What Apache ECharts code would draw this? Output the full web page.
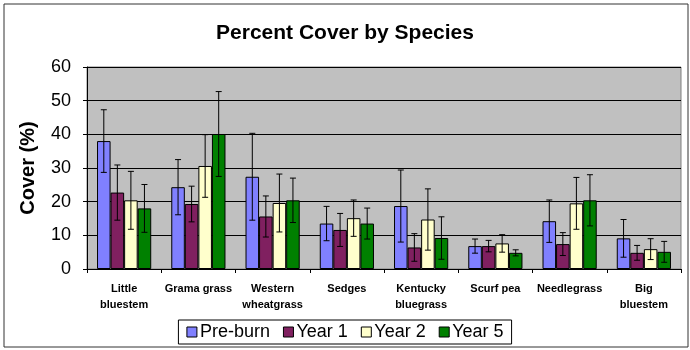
<!DOCTYPE html>
<html><head><meta charset="utf-8">
<script src="https://cdn.jsdelivr.net/npm/echarts@6/dist/echarts.min.js"></script>
<style>html,body{margin:0;padding:0;background:#fff}#c{width:690px;height:350px}</style>
</head><body><div id="c"></div>
<script>
const categories = ['Little\nbluestem','Grama grass','Western\nwheatgrass','Sedges','Kentucky\nbluegrass','Scurf pea','Needlegrass','Big\nbluestem'];
const seriesNames = ['Pre-burn','Year 1','Year 2','Year 5'];
const preBurn = [38.0, 24.3, 27.4, 13.5, 18.7, 6.8, 14.2, 9.1];
const year1   = [22.7, 19.3, 15.6, 11.6, 6.4, 6.8, 7.4, 4.8];
const year2   = [20.4, 30.6, 19.6, 15.1, 14.7, 7.6, 19.5, 5.9];
const year5   = [18.0, 40.1, 20.4, 13.5, 9.2, 4.8, 20.4, 5.1];
const errPreBurn = [9.3, 8.2, 12.9, 5.1, 10.7, 2.1, 6.3, 5.6];
const errYear1   = [8.2, 5.3, 6.1, 4.9, 4.1, 1.7, 3.4, 2.2];
const errYear2   = [8.6, 9.3, 8.6, 5.4, 9.1, 2.6, 7.7, 3.1];
const errYear5   = [7.1, 12.6, 6.6, 4.6, 6.3, 0.9, 7.6, 3.1];
const yTicks = [0, 10, 20, 30, 40, 50, 60];
const colors = ['#8080FF', '#802060', '#FFFFCC', '#008000'];

const values = [preBurn, year1, year2, year5];
const errors = [errPreBurn, errYear1, errYear2, errYear5];
const catGap = 0.27;

const chart = echarts.init(document.getElementById('c'));
const series = [];
values.forEach((v, i) => {
  series.push({
    name: seriesNames[i], type: 'bar', data: v,
    barGap: '0%', barCategoryGap: (catGap*100)+'%',
    itemStyle: { color: colors[i], borderColor: '#000', borderWidth: 1 },
    z: 2
  });
});
values.forEach((v, i) => {
  series.push({
    type: 'custom', silent: true, z: 5,
    data: v.map((val, k) => [k, val, errors[i][k]]),
    renderItem: function (params, api) {
      const k = api.value(0), val = api.value(1), e = api.value(2);
      const band = api.size([1, 0])[0];
      const barW = band * (1 - catGap) / 4;
      const cx = api.coord([k, 0])[0] - band*(1-catGap)/2 + barW*(i+0.5);
      const yTop = api.coord([k, val + e])[1];
      const yBot = api.coord([k, val - e])[1];
      const cap = 3;
      const st = { stroke: '#000', lineWidth: 1 };
      return { type: 'group', children: [
        { type: 'line', shape: { x1: cx, y1: yTop, x2: cx, y2: yBot }, style: st },
        { type: 'line', shape: { x1: cx-cap, y1: yTop, x2: cx+cap, y2: yTop }, style: st },
        { type: 'line', shape: { x1: cx-cap, y1: yBot, x2: cx+cap, y2: yBot }, style: st }
      ]};
    }
  });
});

chart.setOption({
  animation: false,
  title: { text: 'Percent Cover by Species', left: 'center', top: 18,
    textStyle: { fontFamily: 'Liberation Sans, Arial', fontWeight: 'bold', fontSize: 21, color: '#000' } },
  legend: {
    data: seriesNames.map((n, i) => ({ name: n, itemStyle: { color: colors[i], borderColor: '#000', borderWidth: 1 } })),
    bottom: 6, left: 'center', itemWidth: 10, itemHeight: 10, itemGap: 13,
    borderColor: '#000', borderWidth: 1, padding: [3, 8],
    icon: 'rect',
    textStyle: { fontFamily: 'Liberation Sans, Arial', fontSize: 18, color: '#000', padding: [0,0,0,-2] }
  },
  graphic: [{ type: 'rect', shape: { x: 4, y: 4, width: 684, height: 343 }, style: { fill: 'none', stroke: '#333', lineWidth: 1 }, silent: true }],
  grid: { left: 87, right: 9, top: 67, bottom: 81, show: true, backgroundColor: '#C0C0C0', borderColor: '#808080', borderWidth: 1 },
  xAxis: {
    type: 'category', data: categories,
    axisLine: { lineStyle: { color: '#000' } },
    axisTick: { show: true, length: 4, lineStyle: { color: '#000' } },
    axisLabel: { interval: 0, fontFamily: 'Liberation Sans, Arial', fontWeight: 'bold', fontSize: 11, color: '#000', lineHeight: 16, margin: 12, verticalAlign: 'top' }
  },
  yAxis: {
    type: 'value', min: 0, max: 60, interval: 10,
    name: 'Cover (%)', nameLocation: 'middle', nameGap: 49, nameRotate: 90,
    nameTextStyle: { fontFamily: 'Liberation Sans, Arial', fontWeight: 'bold', fontSize: 20, color: '#000' },
    axisLine: { show: true, lineStyle: { color: '#000' } },
    axisTick: { show: true, length: 4, lineStyle: { color: '#000' } },
    axisLabel: { fontFamily: 'Liberation Sans, Arial', fontSize: 18, color: '#000', margin: 16,
      formatter: v => yTicks.includes(v) ? String(v) : '' },
    splitLine: { lineStyle: { color: '#000', width: 1 } }
  },
  series: series
});
</script></body></html>
